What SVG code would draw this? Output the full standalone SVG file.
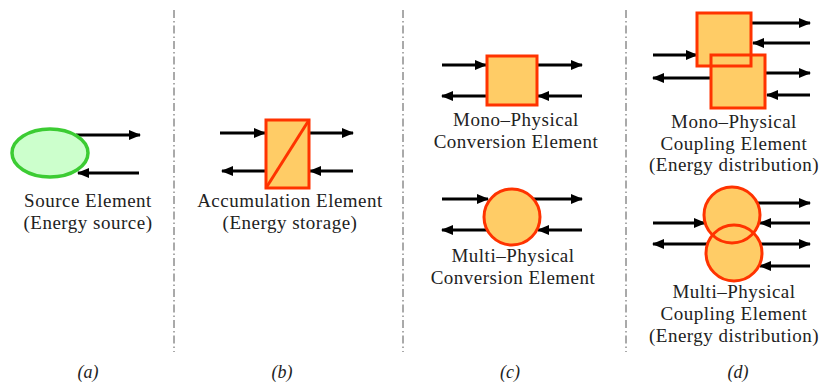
<svg xmlns="http://www.w3.org/2000/svg" width="826" height="386" viewBox="0 0 826 386">
<style>
  text { font-family: "Liberation Serif", "DejaVu Serif", serif; font-size: 19px; letter-spacing: 0.5px; fill: #222; text-anchor: middle; }
  .lab { font-style: italic; font-size: 18px; letter-spacing: 0; }
  .arr { stroke: #000; stroke-width: 3; fill: none; marker-end: url(#ah); }
  .div { stroke: #555; stroke-width: 1; stroke-dasharray: 8 3 1.5 3; fill: none; }
  .blk { fill: #ffcc66; stroke: #ff3300; stroke-width: 3; }
  .fillonly { fill: #ffcc66; stroke: none; }
  .strokeonly { fill: none; stroke: #ff3300; stroke-width: 3; }
</style>
<defs>
  <marker id="ah" markerUnits="userSpaceOnUse" markerWidth="12" markerHeight="10" refX="11" refY="5" orient="auto">
    <path d="M0,0 L12,5 L0,10 z" fill="#000"/>
  </marker>
</defs>

<g id="dividers">
  <line class="div" x1="174" y1="10" x2="174" y2="352"/>
  <line class="div" x1="403" y1="10" x2="403" y2="352"/>
  <line class="div" x1="626" y1="10" x2="626" y2="352"/>
</g>

<g id="connectors">
  <!-- a -->
  <line class="arr" x1="76" y1="135" x2="140" y2="135"/>
  <line class="arr" x1="139" y1="173" x2="78" y2="173"/>
  <!-- b -->
  <line class="arr" x1="220" y1="133" x2="265" y2="133"/>
  <line class="arr" x1="309" y1="133" x2="353" y2="133"/>
  <line class="arr" x1="265" y1="171" x2="222" y2="171"/>
  <line class="arr" x1="353" y1="171" x2="310" y2="171"/>
  <!-- c mono -->
  <line class="arr" x1="442" y1="65" x2="486" y2="65"/>
  <line class="arr" x1="537" y1="65" x2="582" y2="65"/>
  <line class="arr" x1="487" y1="96" x2="442" y2="96"/>
  <line class="arr" x1="582" y1="96" x2="538" y2="96"/>
  <!-- c multi -->
  <line class="arr" x1="442" y1="199" x2="488" y2="199"/>
  <line class="arr" x1="533" y1="199" x2="582" y2="199"/>
  <line class="arr" x1="489" y1="230" x2="442" y2="230"/>
  <line class="arr" x1="582" y1="230" x2="538" y2="230"/>
  <!-- d mono -->
  <line class="arr" x1="751" y1="23" x2="810" y2="23"/>
  <line class="arr" x1="810" y1="43" x2="753" y2="43"/>
  <line class="arr" x1="653" y1="55" x2="697" y2="55"/>
  <line class="arr" x1="711" y1="78" x2="653" y2="78"/>
  <line class="arr" x1="765" y1="73" x2="810" y2="73"/>
  <line class="arr" x1="810" y1="95" x2="767" y2="95"/>
  <!-- d multi -->
  <line class="arr" x1="757" y1="203" x2="810" y2="203"/>
  <line class="arr" x1="810" y1="223" x2="760" y2="223"/>
  <line class="arr" x1="653" y1="223" x2="705" y2="223"/>
  <line class="arr" x1="707" y1="244" x2="653" y2="244"/>
  <line class="arr" x1="761" y1="244" x2="810" y2="244"/>
  <line class="arr" x1="810" y1="266" x2="760" y2="266"/>
</g>

<g id="source-element">
  <ellipse cx="50" cy="153" rx="38" ry="24" fill="#ccffcc" stroke="#3ccc33" stroke-width="3.5"/>
  <text x="88" y="207">Source Element</text>
  <text x="88" y="229">(Energy source)</text>
</g>

<g id="accumulation-element">
  <rect class="blk" x="266" y="120" width="43" height="68"/>
  <line x1="266" y1="188" x2="309" y2="120" stroke="#ff3300" stroke-width="3"/>
  <text x="290" y="207">Accumulation Element</text>
  <text x="290" y="229">(Energy storage)</text>
</g>

<g id="mono-conversion">
  <rect class="blk" x="487" y="56" width="50" height="49"/>
  <text x="516" y="126">Mono–Physical</text>
  <text x="516" y="148">Conversion Element</text>
</g>

<g id="multi-conversion">
  <circle class="blk" cx="512" cy="217" r="28"/>
  <text x="513" y="262">Multi–Physical</text>
  <text x="513" y="284">Conversion Element</text>
</g>

<g id="mono-coupling">
  <rect class="fillonly" x="697" y="13" width="54" height="53"/>
  <rect class="fillonly" x="711" y="55" width="54" height="53"/>
  <rect class="strokeonly" x="697" y="13" width="54" height="53"/>
  <rect class="strokeonly" x="711" y="55" width="54" height="53"/>
  <text x="734" y="128">Mono–Physical</text>
  <text x="734" y="150">Coupling Element</text>
  <text x="734" y="171">(Energy distribution)</text>
</g>

<g id="multi-coupling">
  <circle class="fillonly" cx="732" cy="215" r="28"/>
  <circle class="fillonly" cx="734" cy="253" r="28"/>
  <circle class="strokeonly" cx="732" cy="215" r="28"/>
  <circle class="strokeonly" cx="734" cy="253" r="28"/>
  <text x="734" y="298">Multi–Physical</text>
  <text x="734" y="320">Coupling Element</text>
  <text x="734" y="342">(Energy distribution)</text>
</g>

<g id="labels">
  <text class="lab" x="88" y="378">(a)</text>
  <text class="lab" x="282" y="378">(b)</text>
  <text class="lab" x="510" y="378">(c)</text>
  <text class="lab" x="738" y="378">(d)</text>
</g>
</svg>
